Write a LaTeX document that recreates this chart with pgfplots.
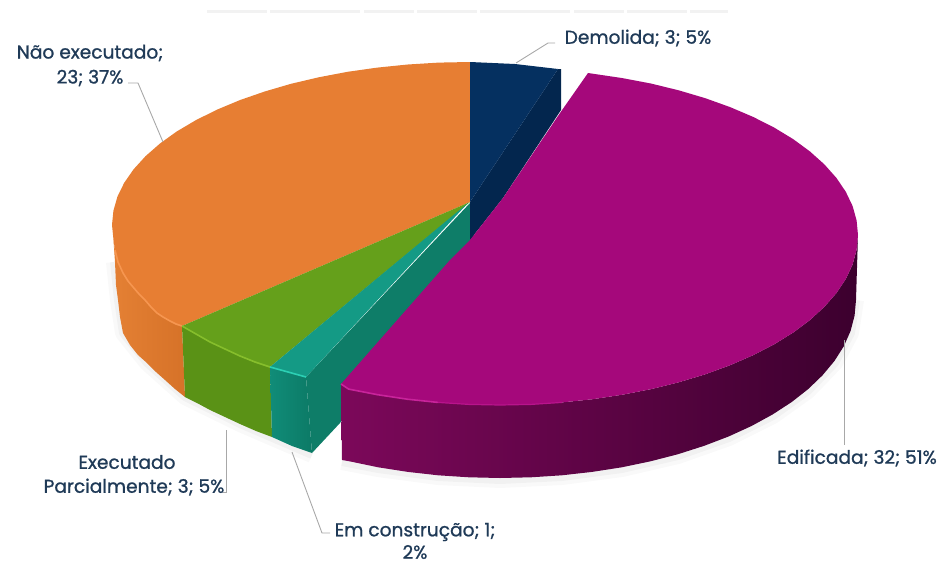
\documentclass[border=0pt]{standalone}
\usepackage{pgfplots}
\pgfplotsset{compat=1.18}
\usepackage{fontspec}
\setmainfont{Poppins}[FakeBold=1]
\definecolor{txt}{HTML}{1F3A57}
\definecolor{lead}{HTML}{A8A8A8}
\tikzset{lbl/.style={font=\fontsize{18.6}{21}\selectfont, text=txt, inner sep=0pt, anchor=center}}
\begin{document}
\begin{tikzpicture}
\begin{axis}[
  scale only axis, width=945pt, height=560pt,
  xmin=0, xmax=945, ymin=0, ymax=560, y dir=reverse,
  hide axis, clip=false,
  every axis plot/.append style={forget plot, no markers}
]
\path (axis cs:0,0) rectangle (axis cs:945,560);
% faint cut-off line at the top
\addplot[draw=black!5, line width=3pt, dash pattern=on 60pt off 3pt on 90pt off 4pt on 50pt off 3pt] coordinates {(207,11) (728,11)};
% soft shadow
\addplot[draw=black, opacity=.025, line width=16pt, line join=round] coordinates {(114,262)(118,300)(123,333)(147,363)(185,397)(240,424)(312,455)};
\addplot[draw=black, opacity=.03, line width=8pt, line join=round] coordinates {(114,262)(118,300)(123,333)(147,363)(185,397)(240,424)(312,455)};
\addplot[draw=black, opacity=.025, line width=16pt, line join=round] coordinates {(342,462)(378,469)(438,477)(500,480)(562,477)(622,469)(678,456)(729,438)(773,416)(808,391)(835,363)(851,333)(856,300)};
\addplot[draw=black, opacity=.03, line width=8pt, line join=round] coordinates {(342,462)(378,469)(438,477)(500,480)(562,477)(622,469)(678,456)(729,438)(773,416)(808,391)(835,363)(851,333)(856,300)};
% orange side
\addplot[draw=none, left color={rgb,255:red,228;green,128;blue,52}, right color={rgb,255:red,214;green,114;blue,40}] coordinates {(113.4,239)(115,250)(118,262)(123,273)(128,281)(133,287)(139,294)(145,300)(151,307)(157,313)(163,317)(170,321)(176,324)(182,326)(185,397)(175,389)(165,380)(156,372)(147,363)(138,355)(130,345)(123,333)(120,317)(118,300)(116,285)(115,262)};
% orange top
\addplot[draw=none, fill={rgb,255:red,231;green,126;blue,51}] coordinates {(470,202)(470,62)(438.8,62.6)(407.8,64.5)(377.3,67.6)(347.6,71.8)(318.7,77.3)(291,83.8)(264.7,91.5)(239.9,100.1)(216.9,109.7)(195.8,120.2)(176.7,131.5)(160,143.5)(145.6,156.1)(133.6,169.3)(124.2,182.8)(117.4,196.7)(113.4,210.8)(112,225)(113.4,239)(115,250)(118,262)(123,273)(128,281)(133,287)(139,294)(145,300)(151,307)(157,313)(163,317)(170,321)(176,324)(182,326)};
% green side
\addplot[draw=none, fill={rgb,255:red,90;green,146;blue,22}] coordinates {(182,326)(196,334)(210,342)(225,349)(240,356)(255,362)(270,367)(272,437)(256,431)(240,424)(225,417)(210,410)(197,403)(185,397)};
% green top
\addplot[draw=none, fill={rgb,255:red,101;green,160;blue,27}] coordinates {(470,202)(182,326)(196,334)(210,342)(225,349)(240,356)(255,362)(270,367)};
% teal wall
\addplot[draw=none, fill={rgb,255:red,14;green,125;blue,104}] coordinates {(306,377)(470,203)(475,240)(340,423)(312,453)};
% teal front
\addplot[draw=none, left color={rgb,255:red,16;green,140;blue,120}, right color={rgb,255:red,12;green,122;blue,102}] coordinates {(270,367)(288,372)(306,377)(312,453)(292,446)(272,437)};
% teal top
\addplot[draw=none, fill={rgb,255:red,20;green,154;blue,133}] coordinates {(468,203)(270,367)(288,372)(306,377)};
% navy
\addplot[draw=none, fill={rgb,255:red,3;green,38;blue,78}] coordinates {(558,69)(561,69)(561,110)(503,198)(470,240)(470,202)};
\addplot[draw=none, fill={rgb,255:red,5;green,48;blue,96}] coordinates {(470,202)(470,62)(515,64)(558,69)};
% magenta side
\addplot[draw=none, left color={rgb,255:red,124;green,8;blue,90}, middle color={rgb,255:red,92;green,2;blue,70}, right color={rgb,255:red,60;green,0;blue,46}] coordinates {(341,384)(348.7,389.1)(377.6,394.7)(407.3,399.2)(437.8,402.4)(468.8,404.4)(500,405)(531.2,404.4)(562.2,402.4)(592.7,399.2)(622.4,394.7)(651.3,389.1)(679,382.2)(705.3,374.3)(730.1,365.2)(753.1,355.2)(774.2,344.3)(793.3,332.5)(810,320)(824.4,306.8)(836.4,293.1)(845.8,279)(852.6,264.5)(856.6,249.8)(858,235)(856,300)(854.6,315.5)(850.6,330.9)(843.9,346.1)(834.5,360.9)(822.6,375.2)(808.3,389)(791.6,402.1)(772.7,414.4)(751.7,425.9)(728.8,436.4)(704.2,445.8)(678,454.2)(650.5,461.3)(621.8,467.3)(592.1,471.9)(561.8,475.3)(531,477.3)(500,478)(469,477.3)(438.2,475.3)(407.9,471.9)(378.2,467.3)(349.5,461.3)(342,460)};
% magenta top
\addplot[draw=none, fill={rgb,255:red,165;green,8;blue,123}] coordinates {(588,73)(592.7,73.7)(622.4,78.1)(651.3,83.6)(679,90.4)(705.3,98.2)(730.1,107.1)(753.1,116.9)(774.2,127.6)(793.3,139.2)(810,151.5)(824.4,164.4)(836.4,177.9)(845.8,191.8)(852.6,206)(856.6,220.4)(858,235)(856.6,249.8)(852.6,264.5)(845.8,279)(836.4,293.1)(824.4,306.8)(810,320)(793.3,332.5)(774.2,344.3)(753.1,355.2)(730.1,365.2)(705.3,374.3)(679,382.2)(651.3,389.1)(622.4,394.7)(592.7,399.2)(562.2,402.4)(531.2,404.4)(500,405)(468.8,404.4)(437.8,402.4)(407.3,399.2)(377.6,394.7)(348.7,389.1)(341,384)(450,260)(470,240)(503,198)(560,113)};
% highlights
\addplot[draw={rgb,255:red,246;green,150;blue,80}, line width=1.6pt] coordinates {(115,250)(118,262)(123,273)(128,281)(133,287)(139,294)(145,300)(151,307)(157,313)(163,317)(170,321)(176,324)(182,326)};
\addplot[draw={rgb,255:red,134;green,190;blue,44}, line width=1.6pt] coordinates {(182,326)(196,334)(210,342)(225,349)(240,356)(255,362)(270,367)};
\addplot[draw={rgb,255:red,44;green,208;blue,180}, line width=1.6pt] coordinates {(270,367)(288,372)(306,377)};
\addplot[draw={rgb,255:red,200;green,36;blue,155}, line width=1.6pt] coordinates {(341,384)(348.7,389.1)(377.6,394.7)(407.3,399.2)(437.8,402.4)};
\addplot[draw={rgb,255:red,184;green,20;blue,140}, line width=1.2pt] coordinates {(437.8,402.4)(468.8,404.4)(500,405)(531.2,404.4)(562.2,402.4)};
% leaders
\addplot[draw=lead, line width=.9pt] coordinates {(516,63)(548,43)(555,43)};
\addplot[draw=lead, line width=.9pt] coordinates {(128,83)(138,83)(163,142)};
\addplot[draw=lead, line width=.9pt] coordinates {(844,340)(844,445)};
\addplot[draw=lead, line width=.9pt] coordinates {(226,430)(226,492)(223,492)};
\addplot[draw=lead, line width=.9pt] coordinates {(292,452)(322,533)(330,533)};
% labels
\node[lbl] at (axis cs:90,53) {Não executado;};
\node[lbl] at (axis cs:90,78) {23; 37\%};
\node[lbl] at (axis cs:638,38) {Demolida; 3; 5\%};
\node[lbl] at (axis cs:857,458) {Edificada; 32; 51\%};
\node[lbl] at (axis cs:127,462) {Executado};
\node[lbl] at (axis cs:134,487) {Parcialmente; 3; 5\%};
\node[lbl] at (axis cs:415,532) {Em construção; 1;};
\node[lbl] at (axis cs:415,552) {2\%};
\end{axis}
\end{tikzpicture}
\end{document}
